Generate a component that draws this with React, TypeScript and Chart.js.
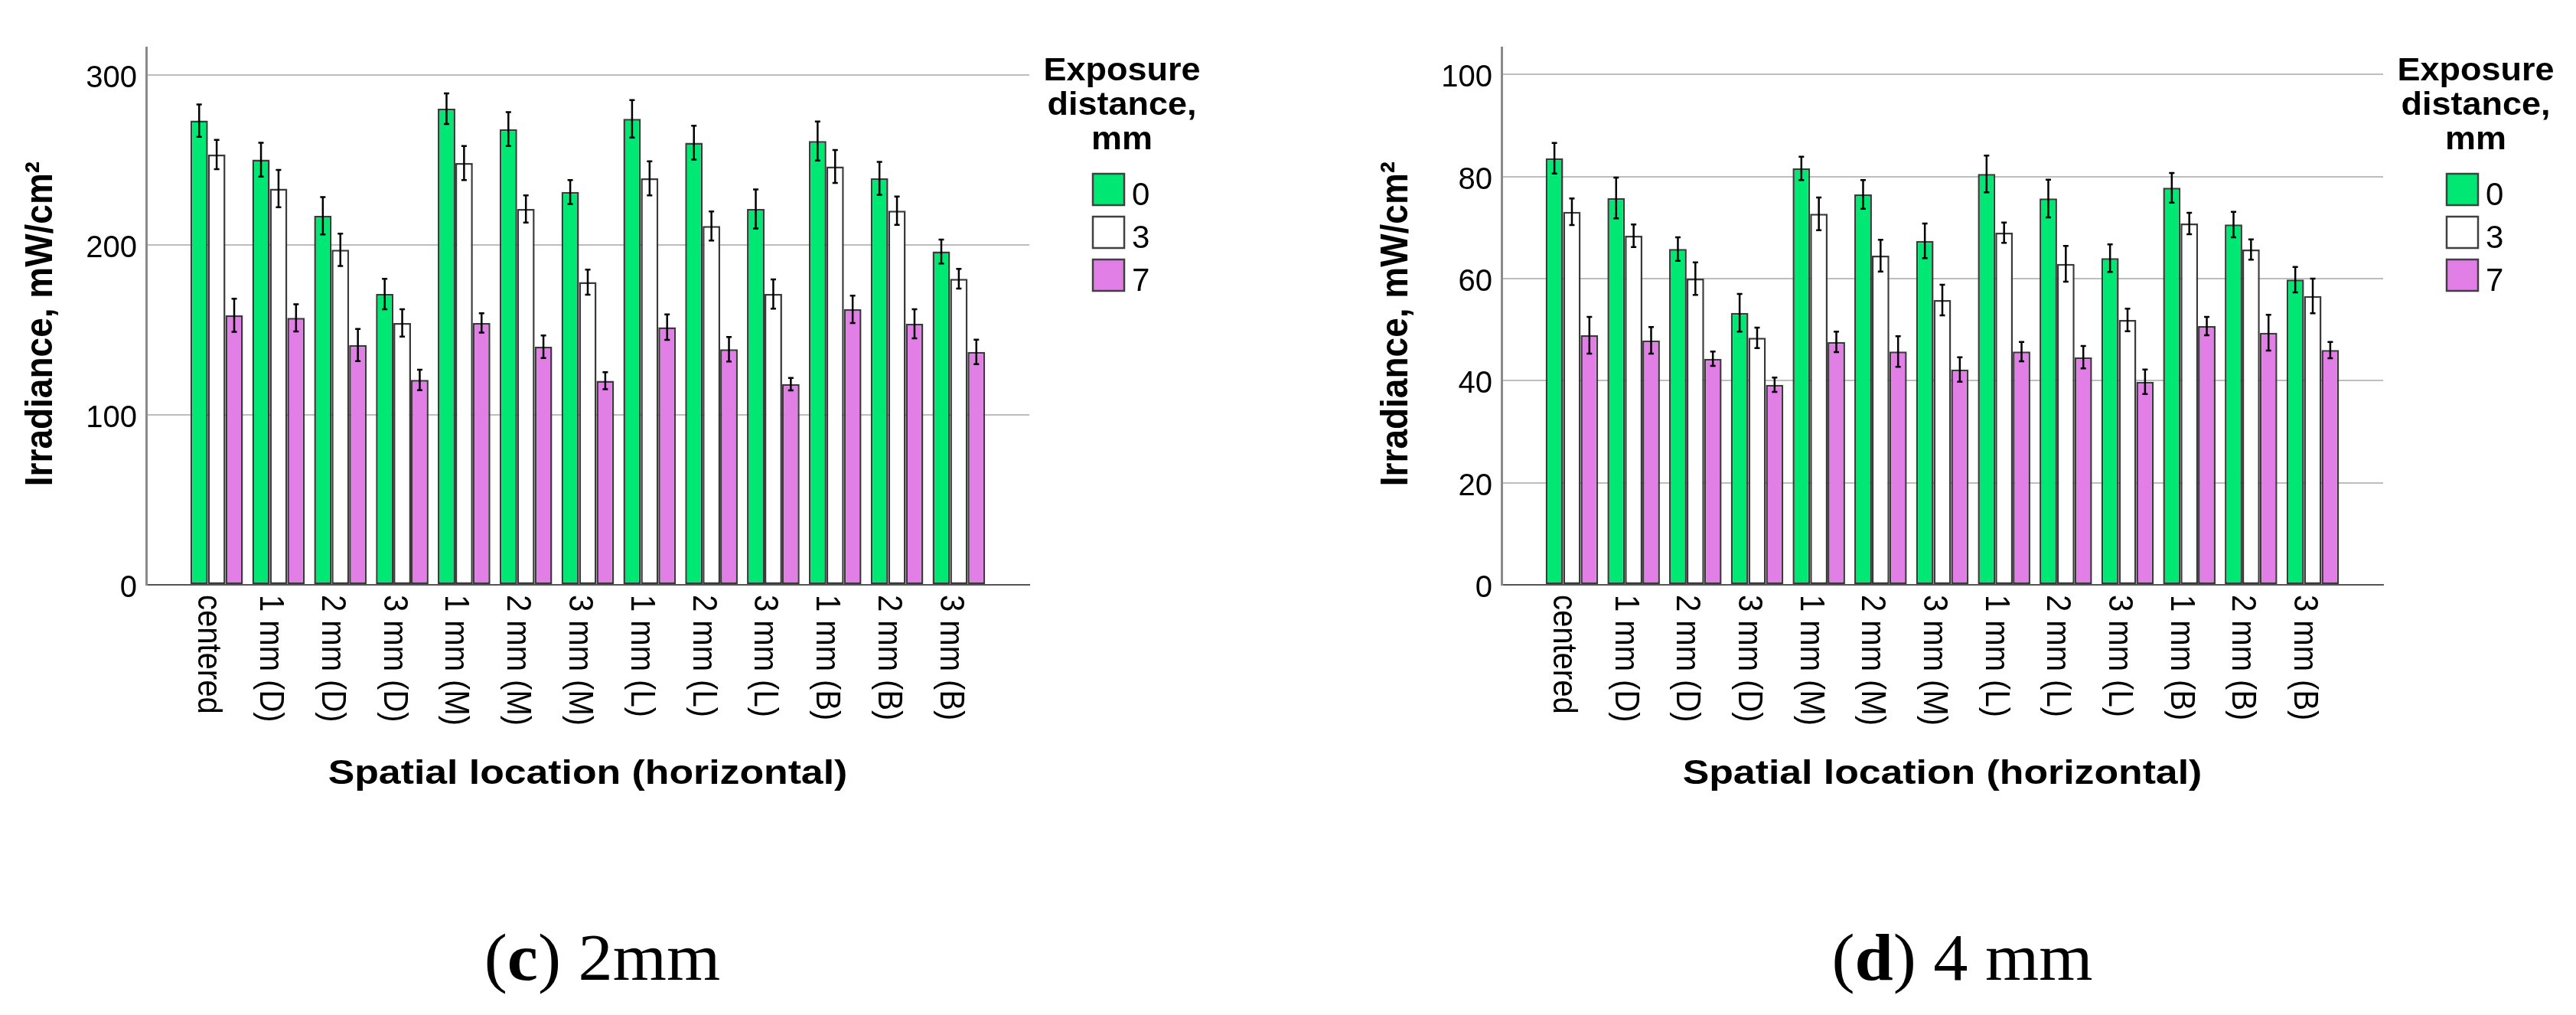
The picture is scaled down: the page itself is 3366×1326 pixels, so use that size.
import { useEffect, useRef } from "react"
import { Chart, registerables } from "chart.js"
import type { Plugin } from "chart.js"

Chart.register(...registerables)

const SANS = '"Liberation Sans", Arial, sans-serif'
const SERIF = '"Liberation Serif", "Times New Roman", serif'

const locations = [
  "centered", "1 mm (D)", "2 mm (D)", "3 mm (D)", "1 mm (M)", "2 mm (M)", "3 mm (M)",
  "1 mm (L)", "2 mm (L)", "3 mm (L)", "1 mm (B)", "2 mm (B)", "3 mm (B)",
]
const distances = ["0", "3", "7"]
const colors = ["#00e874", "#ffffff", "#e17fe6"]

// (c) 2 mm
const c0 = [273, 250, 217, 171, 280, 268, 231, 274, 260, 221, 261, 239, 196]
const c0Err = [9.5, 10, 11, 9, 9, 10, 7, 11, 10, 11.5, 11.5, 9.7, 7]
const c3 = [253, 233, 197, 154, 248, 221, 178, 239, 211, 171, 246, 220, 180]
const c3Err = [8.6, 11, 9.5, 8, 10, 8, 7.4, 10, 8.6, 8.6, 9.7, 8.3, 5.8]
const c7 = [158.5, 157, 141, 120.5, 154, 140, 120, 151.5, 138.5, 118, 162, 153.5, 137]
const c7Err = [9.7, 8, 9.5, 6, 5.7, 6.6, 5, 7.5, 7.2, 3.7, 8, 8.6, 7.2]
const cTicks = [0, 100, 200, 300]

// (d) 4 mm
const d0 = [83.6, 75.8, 65.8, 53.3, 81.6, 76.5, 67.4, 80.5, 75.7, 64, 77.8, 70.6, 59.8]
const d0Err = [3, 4, 2.3, 3.7, 2.3, 2.8, 3.4, 3.6, 3.7, 2.7, 2.9, 2.5, 2.5]
const d3 = [73.1, 68.4, 60, 48.4, 72.7, 64.5, 55.8, 69, 62.9, 51.9, 70.8, 65.7, 56.6]
const d3Err = [2.6, 2.2, 3.2, 2, 3.2, 3.1, 3, 2, 3.5, 2.2, 2.1, 2, 3.4]
const d7 = [48.9, 47.9, 44.3, 39.2, 47.6, 45.7, 42.2, 45.7, 44.6, 39.8, 50.7, 49.4, 46]
const d7Err = [3.6, 2.6, 1.4, 1.4, 2, 3, 2.4, 1.9, 2.2, 2.4, 1.8, 3.5, 1.6]
const dTicks = [0, 20, 40, 60, 80, 100]

type Panel = {
  values: number[][]
  errors: number[][]
  ticks: number[]
  yMax: number
  axisLeft: number
  plotRight: number
}

const panel2mm: Panel = {
  values: [c0, c3, c7],
  errors: [c0Err, c3Err, c7Err],
  ticks: cTicks,
  yMax: 316,
  axisLeft: 191,
  plotRight: 1345,
}

const panel4mm: Panel = {
  values: [d0, d3, d7],
  errors: [d0Err, d3Err, d7Err],
  ticks: dTicks,
  yMax: 105.3,
  axisLeft: 279,
  plotRight: 1431,
}

const W = 1683
const H = 1100
const ZERO_Y = 764

function drawText(
  ctx: CanvasRenderingContext2D,
  text: string,
  x: number,
  y: number,
  font: string,
  sx = 1,
  rot = 0,
  align: CanvasTextAlign = "left"
) {
  ctx.save()
  ctx.translate(x, y)
  ctx.scale(sx, 1)
  if (rot) ctx.rotate(rot)
  ctx.font = font
  ctx.textAlign = align
  ctx.textBaseline = "alphabetic"
  ctx.fillStyle = "#000"
  ctx.fillText(text, 0, 0)
  ctx.restore()
}

function decorPlugin(panel: Panel): Plugin<"bar"> {
  return {
    id: "decor",
    afterDatasetsDraw(chart) {
      const { ctx } = chart
      const y = chart.scales.y
      ctx.save()
      ctx.strokeStyle = "#000"
      ctx.lineWidth = 2.5
      panel.errors.forEach((errs, di) => {
        const meta = chart.getDatasetMeta(di)
        meta.data.forEach((bar, i) => {
          const v = panel.values[di][i]
          const top = y.getPixelForValue(v + errs[i])
          const bottom = y.getPixelForValue(v - errs[i])
          const x = bar.x
          ctx.beginPath()
          ctx.moveTo(x, top)
          ctx.lineTo(x, bottom)
          ctx.moveTo(x - 3.5, top)
          ctx.lineTo(x + 3.5, top)
          ctx.moveTo(x - 3.5, bottom)
          ctx.lineTo(x + 3.5, bottom)
          ctx.stroke()
        })
      })
      ctx.restore()
    },
    afterDraw(chart) {
      const { ctx, chartArea } = chart
      const xs = chart.scales.x

      // category labels, rotated clockwise
      locations.forEach((label, i) => {
        const px = xs.getPixelForValue(i) - 24
        drawText(ctx, label, px, chartArea.bottom + 13, `40px ${SANS}`, 1.1, Math.PI / 2)
      })

      // axis titles
      drawText(
        ctx,
        "Irradiance, mW/cm²",
        chartArea.left - 123,
        (chartArea.top + chartArea.bottom) / 2 + 10,
        `bold 46px ${SANS}`,
        1.1,
        -Math.PI / 2,
        "center"
      )
      drawText(
        ctx,
        "Spatial location (horizontal)",
        (chartArea.left + chartArea.right) / 2,
        1024,
        `bold 45px ${SANS}`,
        1.15,
        0,
        "center"
      )

      // legend
      const L = chartArea.right
      ;["Exposure", "distance,", "mm"].forEach((line, k) => {
        drawText(ctx, line, L + 121, 105 + k * 45, `bold 42px ${SANS}`, 1.07, 0, "center")
      })
      distances.forEach((d, k) => {
        const bx = L + 83
        const by = 227 + k * 56
        ctx.save()
        ctx.fillStyle = colors[k]
        ctx.fillRect(bx, by, 41, 41)
        ctx.strokeStyle = "#404040"
        ctx.lineWidth = 2.5
        ctx.strokeRect(bx, by, 41, 41)
        ctx.restore()
        drawText(ctx, d, bx + 51, by + 41, `42px ${SANS}`)
      })
    },
  }
}

function BarPanel({ panel, left }: { panel: Panel; left: number }) {
  const chartRef = useRef<HTMLCanvasElement>(null)
  const chartInstance = useRef<Chart | null>(null)

  useEffect(() => {
    const canvas = chartRef.current
    if (!canvas) return
    const ctx = canvas.getContext("2d")
    if (!ctx) return

    if (chartInstance.current) chartInstance.current.destroy()

    chartInstance.current = new Chart(ctx, {
      type: "bar",
      data: {
        datasets: panel.values.map((vals, di) => ({
          label: distances[di],
          data: vals.map((v, i) => ({ x: i, y: v })),
          backgroundColor: colors[di],
          borderColor: "#3a3a3a",
          borderWidth: 2.5,
          borderSkipped: false,
          barPercentage: 1,
          categoryPercentage: 0.85,
        })),
      },
      options: {
        responsive: false,
        animation: false,
        events: [],
        layout: {
          padding: { left: 0, top: 62, right: W - panel.plotRight, bottom: 0 },
        },
        plugins: {
          legend: { display: false },
          tooltip: { enabled: false },
        },
        scales: {
          x: {
            type: "linear",
            offset: false,
            min: -1.14,
            max: 13.14,
            afterBuildTicks: (s) => {
              s.ticks = locations.map((_, i) => ({ value: i }))
            },
            afterFit: (s) => {
              s.height = H - ZERO_Y
            },
            ticks: { display: false },
            grid: { display: false, offset: false },
            border: { display: true, color: "#555555", width: 2 },
          },
          y: {
            min: 0,
            max: panel.yMax,
            afterBuildTicks: (s) => {
              s.ticks = panel.ticks.map((v) => ({ value: v }))
            },
            afterFit: (s) => {
              s.width = panel.axisLeft
            },
            ticks: {
              padding: 12,
              labelOffset: 5,
              color: "#000",
              font: { family: SANS, size: 40 },
            },
            grid: { color: "#bdbdbd", lineWidth: 2, drawTicks: false },
            border: { display: true, color: "#8a8a8a", width: 3 },
          },
        },
      },
      plugins: [decorPlugin(panel)],
    })

    return () => {
      if (chartInstance.current) {
        chartInstance.current.destroy()
        chartInstance.current = null
      }
    }
  }, [panel])

  return (
    <div style={{ position: "absolute", left, top: 0, width: W, height: H }}>
      <canvas ref={chartRef} width={W} height={H} style={{ width: W, height: H }} />
    </div>
  )
}

function Caption({ letter, text, centerX }: { letter: string; text: string; centerX: number }) {
  return (
    <div
      style={{
        position: "absolute",
        left: centerX - 300,
        top: 1208,
        width: 600,
        textAlign: "center",
        fontFamily: SERIF,
        fontSize: 86,
        lineHeight: "86px",
        color: "#000",
        transform: "scaleX(1.05)",
        whiteSpace: "pre",
      }}
    >
      (<b>{letter}</b>) {text}
    </div>
  )
}

export default function App() {
  return (
    <div
      style={{
        position: "absolute",
        left: 0,
        top: 0,
        width: 3366,
        height: 1326,
        background: "#fff",
        overflow: "hidden",
      }}
    >
      <BarPanel panel={panel2mm} left={0} />
      <BarPanel panel={panel4mm} left={W} />
      <Caption letter="c" text="2mm" centerX={787} />
      <Caption letter="d" text="4 mm" centerX={2564} />
    </div>
  )
}
